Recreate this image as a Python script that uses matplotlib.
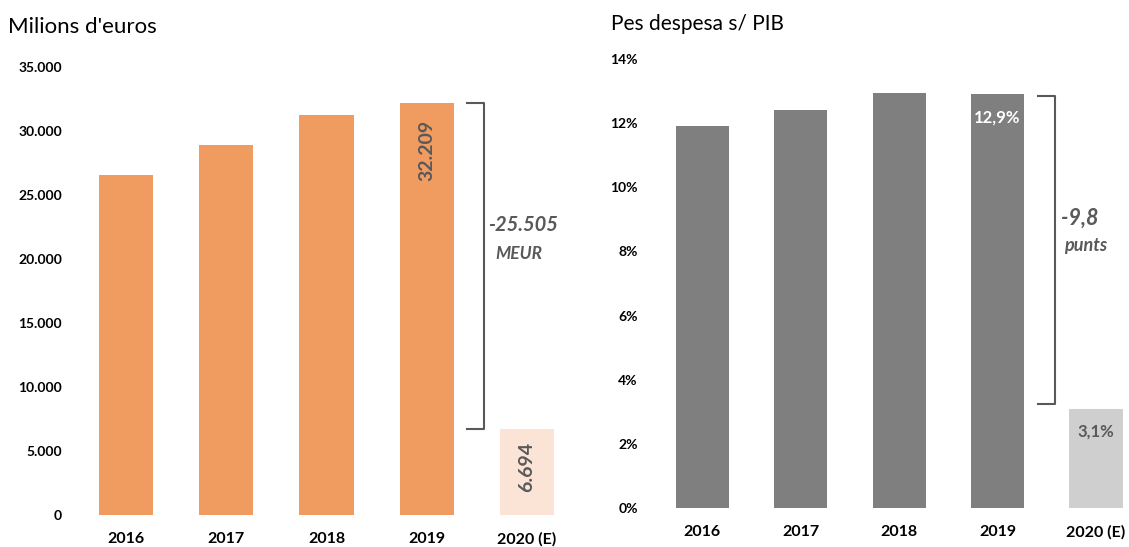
import matplotlib.pyplot as plt
from matplotlib.ticker import FuncFormatter

plt.rcParams['font.family'] = ['Lato', 'DejaVu Sans']

years = ['2016', '2017', '2018', '2019', '2020 (E)']
spend_meur = [26550, 28900, 31250, 32209, 6694]
pct_gdp = [11.9, 12.4, 12.95, 12.9, 3.1]
eur_ticks = [0, 5000, 10000, 15000, 20000, 25000, 30000, 35000]
pct_ticks = [0, 2, 4, 6, 8, 10, 12, 14]
diff_meur = '-25.505'
diff_pts = '-9,8'

orange = '#F09B60'
orange_light = '#FBE3D6'
grey = '#7F7F7F'
grey_light = '#D0CFCF'
txt = '#595959'


def thousands(v):
    return f'{v:,.0f}'.replace(',', '.')


def pct(v):
    return f'{v:.1f}%'.replace('.', ',')


fig = plt.figure(figsize=(11.29, 5.47), dpi=100)
W, H = 1129, 547

# left panel: millions of euros
ax1 = fig.add_axes([76 / W, 32 / H, 501 / W, 448 / H])
x = range(len(years))
ax1.bar(x, spend_meur, width=0.54, color=[orange] * 4 + [orange_light])
ax1.set_xlim(-0.5, 4.5)
ax1.set_ylim(0, 35000)
ax1.set_yticks(eur_ticks)
ax1.yaxis.set_major_formatter(FuncFormatter(lambda v, p: thousands(v)))
ax1.set_xticks(list(x))
ax1.set_xticklabels(years)
ax1.tick_params(axis='y', length=0, pad=10, labelsize=10)
ax1.tick_params(axis='x', length=0, pad=12, labelsize=11.5)
for lab in ax1.get_xticklabels() + ax1.get_yticklabels():
    lab.set_fontweight('bold')
for s in ax1.spines.values():
    s.set_visible(False)

ax1.text(3, 28500, thousands(spend_meur[3]), rotation=90, ha='center', va='center',
         fontsize=14, fontweight='bold', color=txt)
ax1.text(4, 3750, thousands(spend_meur[4]), rotation=90, ha='center', va='center',
         fontsize=14, fontweight='bold', color=txt)
ax1.plot([3.40, 3.57, 3.57, 3.40], [spend_meur[3], spend_meur[3], spend_meur[4], spend_meur[4]],
         color=txt, lw=1.5, clip_on=False)
ax1.text(3.96, 22650, diff_meur, ha='center', va='center', fontsize=14.5,
         fontweight='bold', style='italic', color=txt)
ax1.text(3.92, 20400, 'MEUR', ha='center', va='center', fontsize=12.5,
         fontweight='bold', style='italic', color=txt)

# right panel: share of GDP
ax2 = fig.add_axes([653 / W, 39 / H, 476 / W, 449 / H])
ax2.bar(x, pct_gdp, width=0.54, color=[grey] * 4 + [grey_light])
ax2.set_xlim(-0.5, 4.335)
ax2.set_ylim(0, 14)
ax2.set_yticks(pct_ticks)
ax2.yaxis.set_major_formatter(FuncFormatter(lambda v, p: f'{v:.0f}%'))
ax2.set_xticks(list(x))
ax2.set_xticklabels(years)
ax2.tick_params(axis='y', length=0, pad=11, labelsize=10)
ax2.tick_params(axis='x', length=0, pad=12, labelsize=11.5)
for lab in ax2.get_xticklabels() + ax2.get_yticklabels():
    lab.set_fontweight('bold')
for s in ax2.spines.values():
    s.set_visible(False)

ax2.text(3, 12.16, pct(pct_gdp[3]), ha='center', va='center', fontsize=12,
         fontweight='bold', color='white')
ax2.text(4, 2.37, pct(pct_gdp[4]), ha='center', va='center', fontsize=12,
         fontweight='bold', color=txt)
ax2.plot([3.41, 3.58, 3.58, 3.41], [12.84, 12.84, 3.24, 3.24],
         color=txt, lw=1.5, clip_on=False)
ax2.text(3.83, 9.05, diff_pts, ha='center', va='center', fontsize=15.5,
         fontweight='bold', style='italic', color=txt)
ax2.text(3.89, 8.2, 'punts', ha='center', va='center', fontsize=13,
         fontweight='bold', style='italic', color=txt)

fig.text(8 / W, 1 - 27 / H, "Milions d'euros", ha='left', va='center', fontsize=16)
fig.text(611 / W, 1 - 24 / H, 'Pes despesa s/ PIB', ha='left', va='center', fontsize=15)

fig.savefig('out.png', dpi=100)
